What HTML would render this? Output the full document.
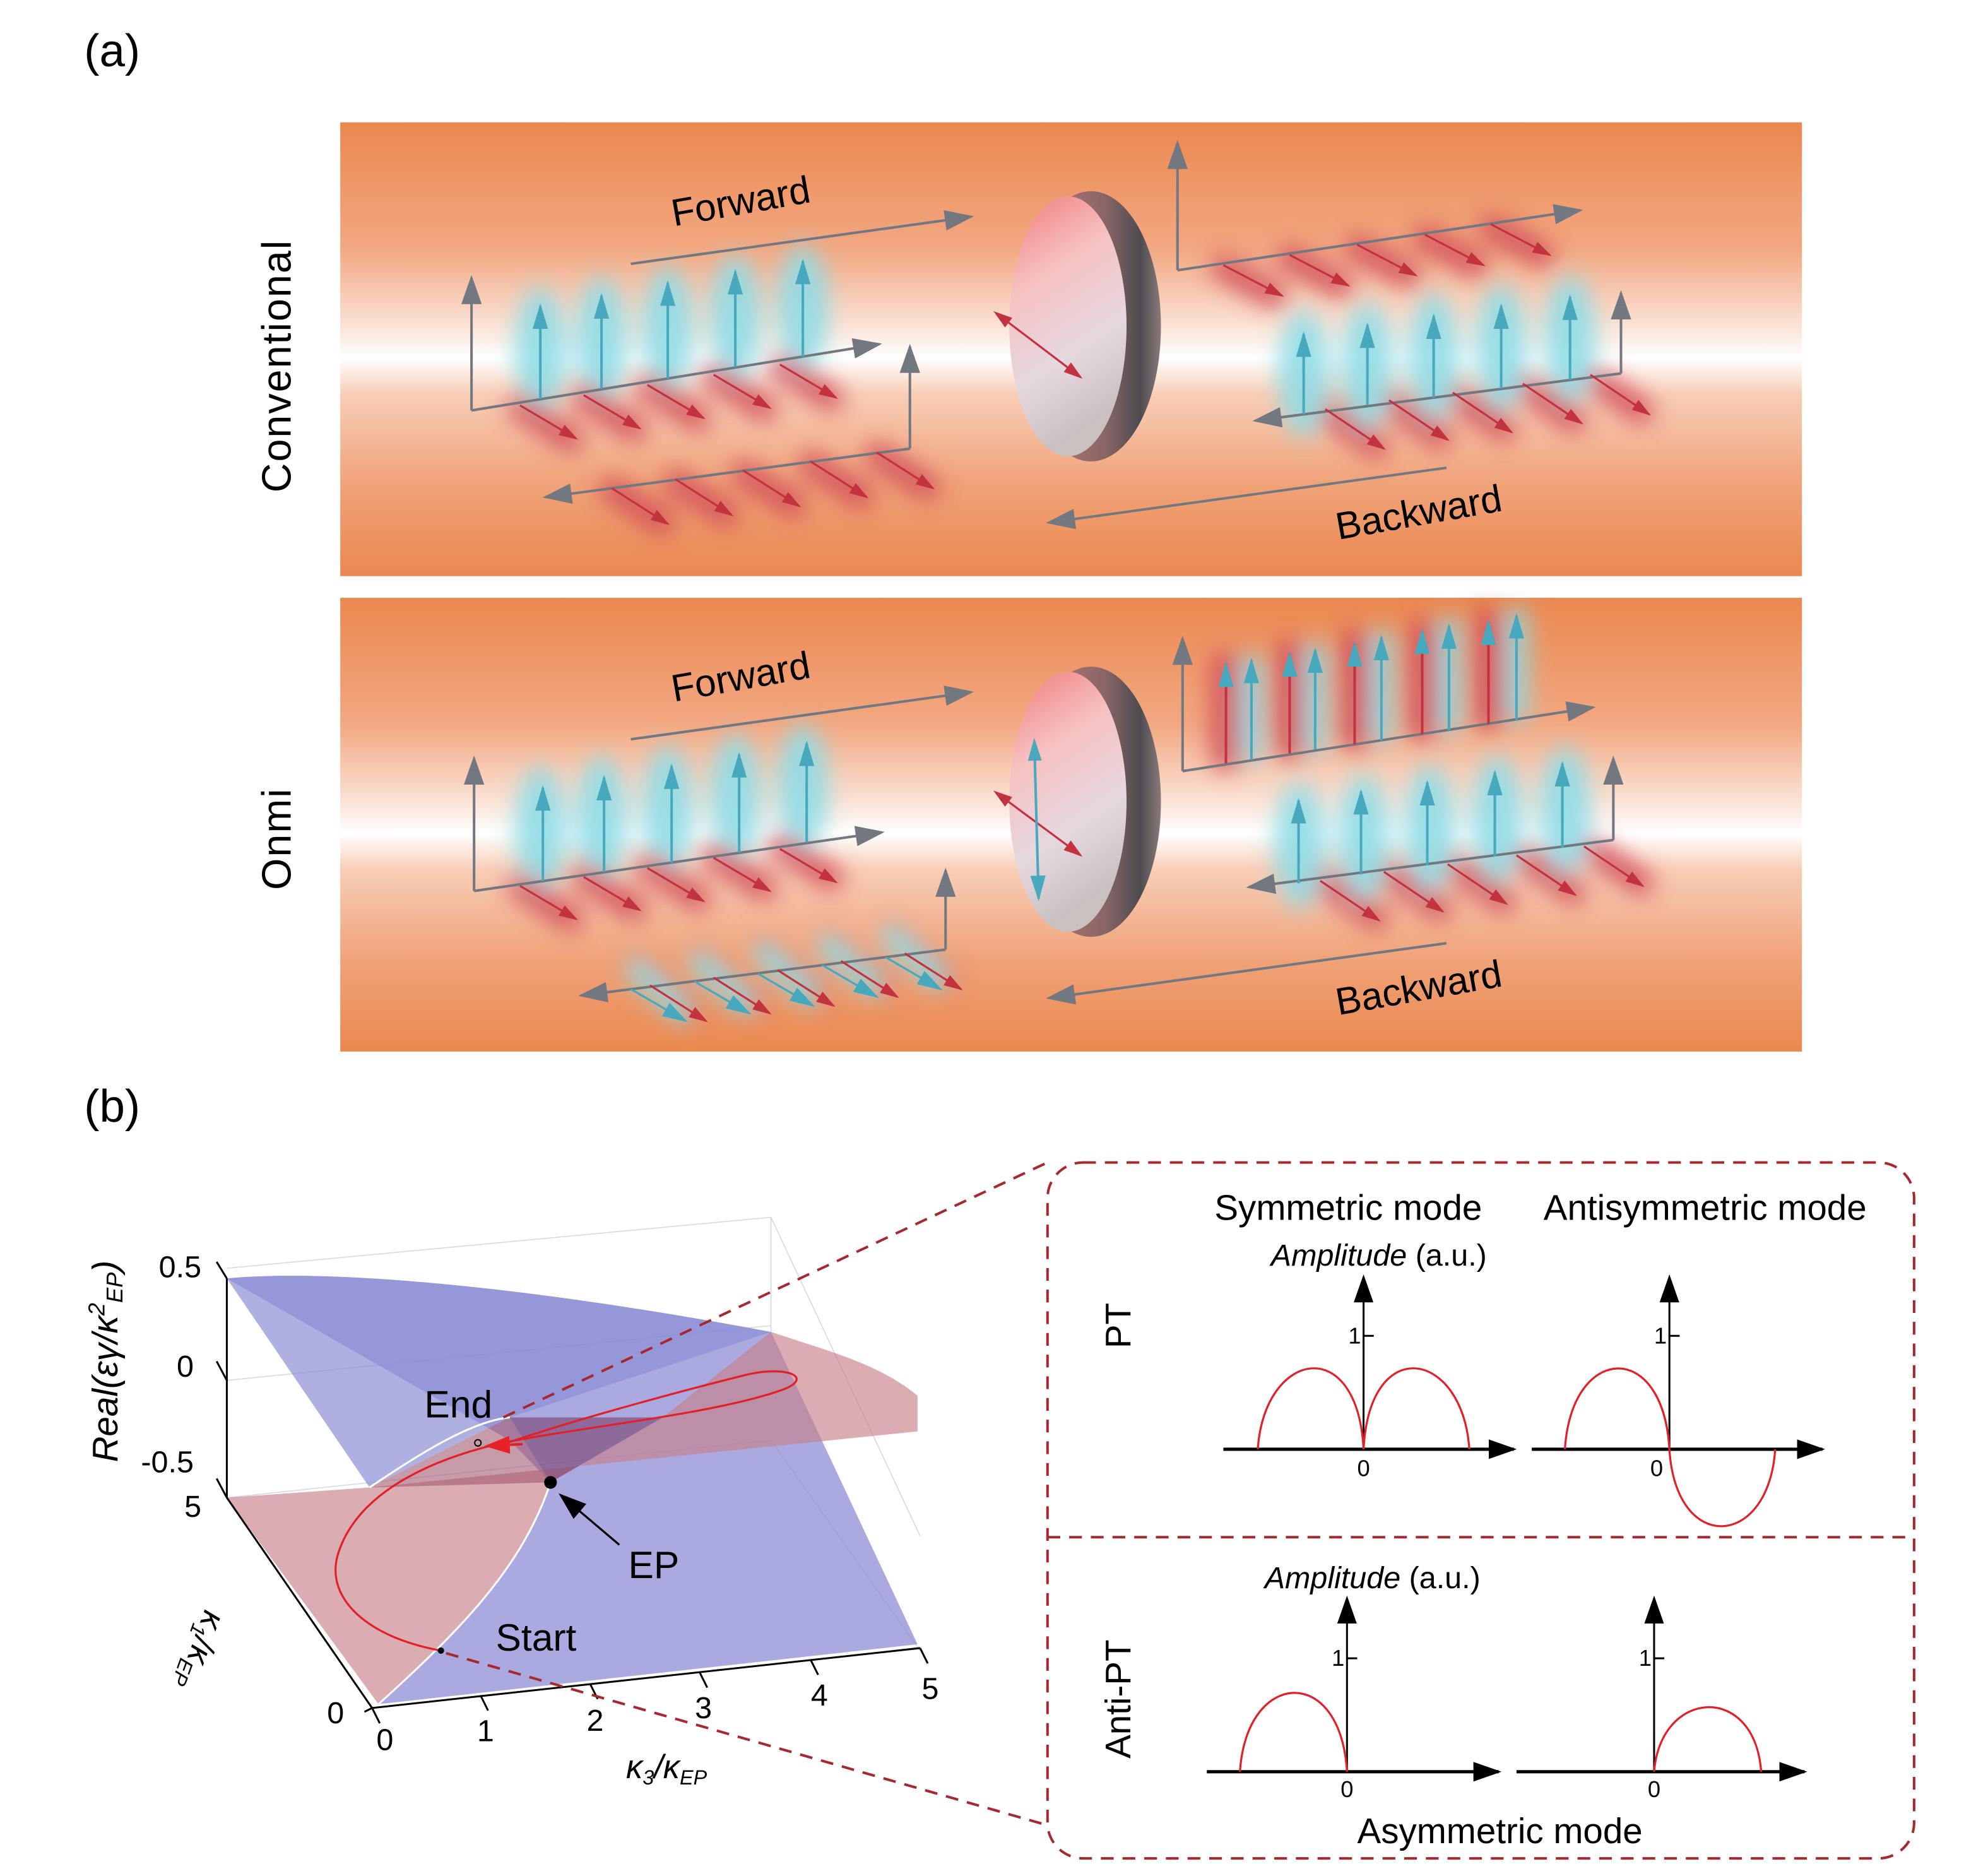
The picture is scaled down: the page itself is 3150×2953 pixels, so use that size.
<!DOCTYPE html>
<html><head><meta charset="utf-8">
<style>
html,body{margin:0;padding:0;background:#fff;}
svg{display:block;}
text{font-family:"Liberation Sans Narrow","Liberation Sans",sans-serif;}
</style></head>
<body>
<svg width="3150" height="2953" viewBox="0 0 1560 1462.4" preserveAspectRatio="none" xmlns="http://www.w3.org/2000/svg">
<defs>
<linearGradient id="bg" x1="0" y1="0" x2="0" y2="1">
<stop offset="0" stop-color="#eb8850"/>
<stop offset="0.28" stop-color="#f2a882"/>
<stop offset="0.45" stop-color="#fbe3d6"/>
<stop offset="0.52" stop-color="#ffffff"/>
<stop offset="0.6" stop-color="#f8cdb6"/>
<stop offset="0.8" stop-color="#f0a278"/>
<stop offset="1" stop-color="#eb8850"/>
</linearGradient>
<linearGradient id="rim" x1="0" y1="0" x2="1" y2="0">
<stop offset="0" stop-color="#c77b7b"/>
<stop offset="0.6" stop-color="#8a6666"/>
<stop offset="0.85" stop-color="#4d4b50"/>
<stop offset="1" stop-color="#8a7a7a"/>
</linearGradient>
<linearGradient id="face" x1="0" y1="0" x2="0.3" y2="1">
<stop offset="0" stop-color="#f07a7a"/>
<stop offset="0.35" stop-color="#f7c0c0"/>
<stop offset="0.7" stop-color="#e6d8e0"/>
<stop offset="1" stop-color="#c9c0c0"/>
</linearGradient>
<filter id="bl" x="-80%" y="-80%" width="260%" height="260%"><feGaussianBlur stdDeviation="9"/></filter>
<marker id="mg" viewBox="0 0 20 14" refX="18" refY="7" markerWidth="26" markerHeight="16" markerUnits="userSpaceOnUse" orient="auto"><path d="M0,0 L20,7 L0,14 z" fill="#737880"/></marker>
<marker id="mb" viewBox="0 0 20 12" refX="18" refY="6" markerWidth="20" markerHeight="13" markerUnits="userSpaceOnUse" orient="auto"><path d="M0,0 L20,6 L0,12 z" fill="#48a8bd"/></marker>
<marker id="mr" viewBox="0 0 16 10" refX="14" refY="5" markerWidth="15" markerHeight="10" markerUnits="userSpaceOnUse" orient="auto"><path d="M0,0 L16,5 L0,10 z" fill="#c3323f"/></marker>
<marker id="mrs" viewBox="0 0 16 10" refX="2" refY="5" markerWidth="15" markerHeight="10" markerUnits="userSpaceOnUse" orient="auto-start-reverse"><path d="M0,0 L16,5 L0,10 z" fill="#c3323f"/></marker>
<marker id="mbs" viewBox="0 0 20 12" refX="2" refY="6" markerWidth="18" markerHeight="12" markerUnits="userSpaceOnUse" orient="auto-start-reverse"><path d="M0,0 L20,6 L0,12 z" fill="#48a8bd"/></marker>
<marker id="mk" viewBox="0 0 20 14" refX="18" refY="7" markerWidth="22" markerHeight="18" markerUnits="userSpaceOnUse" orient="auto"><path d="M0,0 L20,7 L0,14 z" fill="#000"/></marker>
<marker id="mred" viewBox="0 0 20 14" refX="10" refY="7" markerWidth="20" markerHeight="16" markerUnits="userSpaceOnUse" orient="auto"><path d="M0,0 L20,7 L0,14 z" fill="#e8202a"/></marker>
</defs>

<text x="66" y="52" font-size="36">(a)</text>
<text x="66" y="880" font-size="36">(b)</text>

<rect x="267" y="96" width="1147" height="356" fill="url(#bg)"/>
<rect x="267" y="469" width="1147" height="356" fill="url(#bg)"/>

<text transform="translate(228,287) rotate(-90)" font-size="32" text-anchor="middle" font-family="Liberation Sans, sans-serif" letter-spacing="1">Conventional</text>
<text transform="translate(228,658) rotate(-90)" font-size="32" text-anchor="middle" font-family="Liberation Sans, sans-serif" letter-spacing="1">Onmi</text>

<!-- ===== Panel 1 ===== -->
<g>
<g filter="url(#bl)" opacity="0.9">
<g fill="#8fdce6">
<ellipse cx="424" cy="275" rx="20" ry="50"/><ellipse cx="472" cy="267" rx="20" ry="50"/><ellipse cx="524" cy="259" rx="20" ry="50"/><ellipse cx="577" cy="250" rx="20" ry="50"/><ellipse cx="630" cy="242" rx="20" ry="50"/>
</g>
<g stroke="#d2505c" stroke-width="20" stroke-linecap="round">
<line x1="408" y1="320" x2="448" y2="345"/><line x1="458" y1="312" x2="498" y2="337"/><line x1="508" y1="304" x2="548" y2="329"/><line x1="560" y1="296" x2="600" y2="321"/><line x1="612" y1="288" x2="652" y2="313"/>
<line x1="480" y1="384" x2="520" y2="410"/><line x1="530" y1="378" x2="570" y2="404"/><line x1="583" y1="371" x2="623" y2="397"/><line x1="636" y1="364" x2="676" y2="390"/><line x1="688" y1="357" x2="728" y2="383"/>
<line x1="960" y1="210" x2="1000" y2="232"/><line x1="1012" y1="202" x2="1052" y2="224"/><line x1="1065" y1="194" x2="1105" y2="216"/><line x1="1118" y1="186" x2="1158" y2="208"/><line x1="1170" y1="178" x2="1210" y2="200"/>
<line x1="1040" y1="323" x2="1080" y2="350"/><line x1="1090" y1="316" x2="1130" y2="343"/><line x1="1140" y1="310" x2="1180" y2="337"/><line x1="1195" y1="303" x2="1235" y2="330"/><line x1="1248" y1="296" x2="1288" y2="323"/>
</g>
<g fill="#8fdce6">
<ellipse cx="1023" cy="293" rx="20" ry="50"/><ellipse cx="1073" cy="287" rx="20" ry="50"/><ellipse cx="1125" cy="280" rx="20" ry="50"/><ellipse cx="1178" cy="273" rx="20" ry="50"/><ellipse cx="1232" cy="266" rx="20" ry="50"/>
</g>
</g>
<line x1="370" y1="322" x2="370" y2="218" stroke="#737880" stroke-width="2" marker-end="url(#mg)"/>
<line x1="370" y1="322" x2="690" y2="270" stroke="#737880" stroke-width="2" marker-end="url(#mg)"/>
<g stroke="#48a8bd" stroke-width="2" marker-end="url(#mb)">
<line x1="424" y1="313" x2="424" y2="240"/><line x1="472" y1="305" x2="472" y2="232"/><line x1="524" y1="297" x2="524" y2="222"/><line x1="577" y1="288" x2="577" y2="213"/><line x1="630" y1="280" x2="630" y2="205"/>
</g>
<g stroke="#c3323f" stroke-width="1.6" marker-end="url(#mr)">
<line x1="408" y1="318" x2="452" y2="344"/><line x1="458" y1="310" x2="502" y2="336"/><line x1="508" y1="302" x2="552" y2="328"/><line x1="560" y1="294" x2="604" y2="320"/><line x1="612" y1="286" x2="656" y2="312"/>
</g>
<line x1="714" y1="352" x2="714" y2="272" stroke="#737880" stroke-width="2" marker-end="url(#mg)"/>
<line x1="714" y1="352" x2="428" y2="390" stroke="#737880" stroke-width="2" marker-end="url(#mg)"/>
<g stroke="#c3323f" stroke-width="1.6" marker-end="url(#mr)">
<line x1="480" y1="383" x2="524" y2="411"/><line x1="530" y1="376" x2="574" y2="404"/><line x1="583" y1="369" x2="627" y2="397"/><line x1="636" y1="362" x2="680" y2="390"/><line x1="688" y1="355" x2="732" y2="383"/>
</g>
<line x1="924" y1="212" x2="924" y2="112" stroke="#737880" stroke-width="2" marker-end="url(#mg)"/>
<line x1="924" y1="212" x2="1240" y2="165" stroke="#737880" stroke-width="2" marker-end="url(#mg)"/>
<g stroke="#c3323f" stroke-width="1.6" marker-end="url(#mr)">
<line x1="960" y1="208" x2="1006" y2="232"/><line x1="1012" y1="200" x2="1058" y2="224"/><line x1="1065" y1="192" x2="1111" y2="216"/><line x1="1118" y1="184" x2="1164" y2="208"/><line x1="1170" y1="176" x2="1216" y2="200"/>
</g>
<line x1="1272" y1="293" x2="1272" y2="230" stroke="#737880" stroke-width="2" marker-end="url(#mg)"/>
<line x1="1272" y1="293" x2="985" y2="330" stroke="#737880" stroke-width="2" marker-end="url(#mg)"/>
<g stroke="#48a8bd" stroke-width="2" marker-end="url(#mb)">
<line x1="1023" y1="325" x2="1023" y2="262"/><line x1="1073" y1="318" x2="1073" y2="255"/><line x1="1125" y1="312" x2="1125" y2="248"/><line x1="1178" y1="305" x2="1178" y2="240"/><line x1="1232" y1="298" x2="1232" y2="233"/>
</g>
<g stroke="#c3323f" stroke-width="1.6" marker-end="url(#mr)">
<line x1="1040" y1="321" x2="1086" y2="352"/><line x1="1090" y1="314" x2="1136" y2="345"/><line x1="1140" y1="308" x2="1186" y2="339"/><line x1="1195" y1="301" x2="1241" y2="332"/><line x1="1248" y1="294" x2="1294" y2="325"/>
</g>
<line x1="495" y1="207" x2="762" y2="170" stroke="#737880" stroke-width="2" marker-end="url(#mg)"/>
<line x1="1135" y1="367" x2="823" y2="410" stroke="#737880" stroke-width="2" marker-end="url(#mg)"/>
<text transform="translate(583,168) rotate(-10)" font-size="30" text-anchor="middle">Forward</text>
<text transform="translate(1115,412) rotate(-10)" font-size="30" text-anchor="middle">Backward</text>
<ellipse cx="856" cy="256" rx="55" ry="106" fill="url(#rim)"/>
<ellipse cx="838" cy="256" rx="46" ry="102" fill="url(#face)"/>
</g>
<line x1="790" y1="252" x2="848" y2="296" stroke="#c3323f" stroke-width="1.6" marker-start="url(#mrs)" marker-end="url(#mr)"/>

<!-- ===== Panel 2 ===== -->
<g transform="translate(0,373)">
<g filter="url(#bl)" opacity="0.9">
<g fill="#8fdce6">
<ellipse cx="424" cy="278" rx="20" ry="50"/><ellipse cx="472" cy="270" rx="20" ry="50"/><ellipse cx="524" cy="262" rx="20" ry="50"/><ellipse cx="577" cy="253" rx="20" ry="50"/><ellipse cx="630" cy="245" rx="20" ry="50"/>
</g>
<g stroke="#d2505c" stroke-width="20" stroke-linecap="round">
<line x1="408" y1="323" x2="448" y2="348"/><line x1="458" y1="315" x2="498" y2="340"/><line x1="508" y1="307" x2="548" y2="332"/><line x1="560" y1="299" x2="600" y2="324"/><line x1="612" y1="291" x2="652" y2="316"/>
<line x1="500" y1="386" x2="540" y2="420"/><line x1="550" y1="380" x2="590" y2="414"/><line x1="600" y1="373" x2="640" y2="407"/><line x1="650" y1="367" x2="690" y2="400"/><line x1="700" y1="360" x2="740" y2="394"/>
<line x1="1040" y1="320" x2="1080" y2="347"/><line x1="1090" y1="313" x2="1130" y2="340"/><line x1="1140" y1="307" x2="1180" y2="334"/><line x1="1195" y1="300" x2="1235" y2="327"/><line x1="1248" y1="293" x2="1288" y2="320"/>
</g>
<g stroke="#d2505c" stroke-width="24" stroke-linecap="round">
<line x1="962" y1="220" x2="962" y2="150"/><line x1="1012" y1="212" x2="1012" y2="140"/><line x1="1063" y1="205" x2="1063" y2="132"/><line x1="1116" y1="197" x2="1116" y2="124"/><line x1="1168" y1="189" x2="1168" y2="116"/>
</g>
<g stroke="#8fdce6" stroke-width="18" stroke-linecap="round">
<line x1="982" y1="217" x2="982" y2="150"/><line x1="1032" y1="210" x2="1032" y2="140"/><line x1="1084" y1="202" x2="1084" y2="130"/><line x1="1137" y1="194" x2="1137" y2="120"/><line x1="1190" y1="186" x2="1190" y2="112"/>
<line x1="500" y1="388" x2="535" y2="420"/><line x1="550" y1="382" x2="585" y2="414"/><line x1="600" y1="375" x2="635" y2="407"/><line x1="650" y1="369" x2="685" y2="400"/><line x1="700" y1="362" x2="735" y2="394"/>
</g>
<g fill="#8fdce6">
<ellipse cx="1020" cy="290" rx="20" ry="50"/><ellipse cx="1070" cy="284" rx="20" ry="50"/><ellipse cx="1122" cy="277" rx="20" ry="50"/><ellipse cx="1175" cy="270" rx="20" ry="50"/><ellipse cx="1228" cy="263" rx="20" ry="50"/>
</g>
</g>
<line x1="372" y1="326" x2="372" y2="222" stroke="#737880" stroke-width="2" marker-end="url(#mg)"/>
<line x1="372" y1="326" x2="692" y2="280" stroke="#737880" stroke-width="2" marker-end="url(#mg)"/>
<g stroke="#48a8bd" stroke-width="2" marker-end="url(#mb)">
<line x1="426" y1="318" x2="426" y2="245"/><line x1="474" y1="311" x2="474" y2="237"/><line x1="527" y1="304" x2="527" y2="228"/><line x1="580" y1="296" x2="580" y2="219"/><line x1="633" y1="288" x2="633" y2="210"/>
</g>
<g stroke="#c3323f" stroke-width="1.6" marker-end="url(#mr)">
<line x1="408" y1="322" x2="452" y2="348"/><line x1="458" y1="315" x2="502" y2="341"/><line x1="508" y1="308" x2="552" y2="334"/><line x1="560" y1="300" x2="604" y2="326"/><line x1="612" y1="293" x2="656" y2="319"/>
</g>
<line x1="742" y1="372" x2="742" y2="310" stroke="#737880" stroke-width="2" marker-end="url(#mg)"/>
<line x1="742" y1="372" x2="456" y2="408" stroke="#737880" stroke-width="2" marker-end="url(#mg)"/>
<g stroke="#c3323f" stroke-width="1.6" marker-end="url(#mr)">
<line x1="510" y1="400" x2="554" y2="428"/><line x1="560" y1="394" x2="604" y2="422"/><line x1="610" y1="388" x2="654" y2="416"/><line x1="660" y1="381" x2="704" y2="409"/><line x1="710" y1="375" x2="754" y2="403"/>
</g>
<g stroke="#48a8bd" stroke-width="1.6" marker-end="url(#mb)">
<line x1="495" y1="403" x2="538" y2="428"/><line x1="545" y1="397" x2="588" y2="422"/><line x1="595" y1="391" x2="638" y2="416"/><line x1="645" y1="384" x2="688" y2="409"/><line x1="695" y1="378" x2="738" y2="403"/>
</g>
<line x1="928" y1="232" x2="928" y2="128" stroke="#737880" stroke-width="2" marker-end="url(#mg)"/>
<line x1="928" y1="232" x2="1250" y2="182" stroke="#737880" stroke-width="2" marker-end="url(#mg)"/>
<g stroke="#c3323f" stroke-width="2" marker-end="url(#mb)">
<line x1="962" y1="226" x2="962" y2="148"/><line x1="1012" y1="218" x2="1012" y2="140"/><line x1="1063" y1="211" x2="1063" y2="132"/><line x1="1116" y1="203" x2="1116" y2="122"/><line x1="1168" y1="195" x2="1168" y2="115"/>
</g>
<g stroke="#48a8bd" stroke-width="2" marker-end="url(#mb)">
<line x1="982" y1="223" x2="982" y2="145"/><line x1="1032" y1="215" x2="1032" y2="137"/><line x1="1084" y1="208" x2="1084" y2="127"/><line x1="1137" y1="200" x2="1137" y2="118"/><line x1="1190" y1="192" x2="1190" y2="110"/>
</g>
<line x1="1266" y1="286" x2="1266" y2="222" stroke="#737880" stroke-width="2" marker-end="url(#mg)"/>
<line x1="1266" y1="286" x2="980" y2="323" stroke="#737880" stroke-width="2" marker-end="url(#mg)"/>
<g stroke="#48a8bd" stroke-width="2" marker-end="url(#mb)">
<line x1="1019" y1="320" x2="1019" y2="255"/><line x1="1068" y1="313" x2="1068" y2="248"/><line x1="1120" y1="306" x2="1120" y2="241"/><line x1="1173" y1="299" x2="1173" y2="233"/><line x1="1226" y1="292" x2="1226" y2="226"/>
</g>
<g stroke="#c3323f" stroke-width="1.6" marker-end="url(#mr)">
<line x1="1036" y1="318" x2="1082" y2="349"/><line x1="1086" y1="311" x2="1132" y2="342"/><line x1="1136" y1="305" x2="1182" y2="336"/><line x1="1190" y1="298" x2="1236" y2="329"/><line x1="1243" y1="291" x2="1289" y2="322"/>
</g>
<line x1="495" y1="207" x2="762" y2="170" stroke="#737880" stroke-width="2" marker-end="url(#mg)"/>
<line x1="1135" y1="367" x2="823" y2="410" stroke="#737880" stroke-width="2" marker-end="url(#mg)"/>
<text transform="translate(583,168) rotate(-10)" font-size="30" text-anchor="middle">Forward</text>
<text transform="translate(1115,412) rotate(-10)" font-size="30" text-anchor="middle">Backward</text>
<ellipse cx="856" cy="256" rx="55" ry="106" fill="url(#rim)"/>
<ellipse cx="838" cy="256" rx="46" ry="102" fill="url(#face)"/>
<line x1="790" y1="255" x2="848" y2="298" stroke="#c3323f" stroke-width="1.6" marker-start="url(#mrs)" marker-end="url(#mr)"/>
<line x1="812" y1="222" x2="815" y2="332" stroke="#48a8bd" stroke-width="2" marker-start="url(#mbs)" marker-end="url(#mb)"/>
</g>

<!-- ===== Part (b) 3D plot ===== -->
<g stroke="#d8d8e0" stroke-width="0.8" fill="none">
<line x1="178" y1="995" x2="605" y2="955"/>
<line x1="605" y1="955" x2="605" y2="1045"/>
<line x1="605" y1="955" x2="722" y2="1205"/>
<line x1="178" y1="1083" x2="605" y2="1040"/>
<line x1="178" y1="1175" x2="605" y2="1130"/>
<line x1="605" y1="1130" x2="722" y2="1295"/>
</g>
<path d="M178,1003 C260,995 420,1010 605,1045 L720,1290 L297,1337 C360,1280 410,1230 432,1163 L400,1130 Z" fill="#8d8ed6" opacity="0.75"/>
<path d="M178,1003 L290,1167 L400,1112 L605,1045 C420,1010 260,995 178,1003 Z" fill="#8d8ed6" opacity="0.7"/>
<path d="M178,1175 L297,1337 C360,1280 410,1230 432,1163 L520,1112 L605,1045 C650,1060 690,1070 720,1095 L720,1123 L290,1167 Z" fill="#c77f88" opacity="0.65"/>
<path d="M290,1167 L400,1112 L432,1163 Z" fill="#a35870" opacity="0.6"/>
<path d="M400,1112 L520,1112 L432,1163 Z" fill="#7a3f6a" opacity="0.6"/>
<path d="M297,1337 C360,1280 410,1230 432,1163" fill="none" stroke="#fff" stroke-width="1.5"/>
<path d="M290,1167 C330,1140 370,1115 400,1112" fill="none" stroke="#fff" stroke-width="1.5"/>
<g stroke="#000" stroke-width="1.5" fill="none">
<line x1="178" y1="1003" x2="178" y2="1175"/>
<line x1="178" y1="1175" x2="292" y2="1340"/>
<line x1="292" y1="1340" x2="722" y2="1293"/>
<line x1="170" y1="990" x2="178" y2="1003"/><line x1="170" y1="1068" x2="178" y2="1083"/><line x1="170" y1="1160" x2="178" y2="1175"/>
<line x1="286" y1="1343" x2="292" y2="1340"/>
<line x1="292" y1="1340" x2="298" y2="1352"/><line x1="377" y1="1330" x2="383" y2="1342"/><line x1="463" y1="1321" x2="469" y2="1333"/><line x1="549" y1="1312" x2="555" y2="1324"/><line x1="636" y1="1302" x2="642" y2="1314"/><line x1="722" y1="1293" x2="728" y2="1305"/>
</g>
<g font-size="24">
<text x="158" y="1002" text-anchor="end">0.5</text>
<text x="152" y="1080" text-anchor="end">0</text>
<text x="152" y="1155" text-anchor="end">-0.5</text>
<text x="158" y="1190" text-anchor="end">5</text>
<text x="270" y="1352" text-anchor="end">0</text>
<text x="302" y="1373" text-anchor="middle">0</text>
<text x="381" y="1366" text-anchor="middle">1</text>
<text x="467" y="1358" text-anchor="middle">2</text>
<text x="552" y="1348" text-anchor="middle">3</text>
<text x="643" y="1338" text-anchor="middle">4</text>
<text x="730" y="1333" text-anchor="middle">5</text>
</g>
<text transform="translate(92,1068) rotate(-90)" font-size="28" text-anchor="middle" font-family="Liberation Serif, serif" font-style="italic">Real(εγ/κ<tspan dy="-10" font-size="18">2</tspan><tspan dy="14" font-size="18">EP</tspan><tspan dy="-4">)</tspan></text>
<text transform="translate(150,1292) rotate(110)" font-size="26" text-anchor="middle" font-family="Liberation Serif, serif" font-style="italic">κ<tspan font-size="16" dy="5">1</tspan><tspan dy="-5">/κ</tspan><tspan font-size="16" dy="5">EP</tspan></text>
<text x="523" y="1395" font-size="26" text-anchor="middle" font-family="Liberation Serif, serif" font-style="italic">κ<tspan font-size="16" dy="5">3</tspan><tspan dy="-5">/κ</tspan><tspan font-size="16" dy="5">EP</tspan></text>
<path d="M346,1295 C290,1285 255,1255 265,1220 C280,1170 340,1145 390,1133" fill="none" stroke="#e2202a" stroke-width="1.6"/>
<path d="M390,1133 C450,1120 560,1110 615,1090 C640,1080 615,1070 580,1080 C520,1095 430,1120 390,1135" fill="none" stroke="#e2202a" stroke-width="1.6"/>
<line x1="410" y1="1133" x2="390" y2="1134" stroke="#e2202a" stroke-width="2" marker-end="url(#mred)"/>
<circle cx="375" cy="1132" r="2.5" fill="none" stroke="#000" stroke-width="1"/>
<circle cx="346" cy="1295" r="2.5" fill="#000"/>
<circle cx="432" cy="1163" r="5" fill="#000"/>
<line x1="486" y1="1212" x2="440" y2="1173" stroke="#000" stroke-width="1.6" marker-end="url(#mk)"/>
<g font-size="30">
<text x="333" y="1112">End</text>
<text x="493" y="1238">EP</text>
<text x="389" y="1295">Start</text>
</g>

<g stroke="#a8282f" stroke-width="2" stroke-dasharray="10,7" fill="none">
<line x1="395" y1="1112" x2="822" y2="912"/>
<line x1="350" y1="1297" x2="822" y2="1432"/>
<rect x="822" y="912" width="680" height="546" rx="28"/>
<line x1="822" y1="1206" x2="1502" y2="1206"/>
</g>

<g font-size="28">
<text x="1058" y="957" text-anchor="middle">Symmetric mode</text>
<text x="1338" y="957" text-anchor="middle">Antisymmetric mode</text>
<text x="1177" y="1446" text-anchor="middle">Asymmetric mode</text>
</g>
<text x="1082" y="993" font-size="24" text-anchor="middle"><tspan font-style="italic">Amplitude</tspan> (a.u.)</text>
<text x="1077" y="1246" font-size="24" text-anchor="middle"><tspan font-style="italic">Amplitude</tspan> (a.u.)</text>
<text transform="translate(887,1040) rotate(-90)" font-size="28" text-anchor="middle" font-family="Liberation Sans, sans-serif">PT</text>
<text transform="translate(887,1333) rotate(-90)" font-size="28" text-anchor="middle" font-family="Liberation Sans, sans-serif">Anti-PT</text>

<g stroke="#000" fill="none">
<line x1="960" y1="1137" x2="1188" y2="1137" stroke-width="2.5" marker-end="url(#mk)"/>
<line x1="1070" y1="1137" x2="1070" y2="1002" stroke-width="1.5" marker-end="url(#mk)"/>
<line x1="1070" y1="1048" x2="1078" y2="1048" stroke-width="1.5"/>
<line x1="1202" y1="1137" x2="1430" y2="1137" stroke-width="2.5" marker-end="url(#mk)"/>
<line x1="1310" y1="1137" x2="1310" y2="1002" stroke-width="1.5" marker-end="url(#mk)"/>
<line x1="1310" y1="1048" x2="1318" y2="1048" stroke-width="1.5"/>
<line x1="947" y1="1390" x2="1176" y2="1390" stroke-width="2.5" marker-end="url(#mk)"/>
<line x1="1057" y1="1390" x2="1057" y2="1254" stroke-width="1.5" marker-end="url(#mk)"/>
<line x1="1057" y1="1301" x2="1065" y2="1301" stroke-width="1.5"/>
<line x1="1190" y1="1390" x2="1416" y2="1390" stroke-width="2.5" marker-end="url(#mk)"/>
<line x1="1298" y1="1390" x2="1298" y2="1254" stroke-width="1.5" marker-end="url(#mk)"/>
<line x1="1298" y1="1301" x2="1306" y2="1301" stroke-width="1.5"/>
</g>
<g stroke="#e2202a" stroke-width="1.6" fill="none">
<path d="M987,1137 C992,1060 1065,1045 1070,1137"/>
<path d="M1070,1137 C1075,1045 1148,1060 1153,1137"/>
<path d="M1228,1137 C1233,1055 1305,1050 1310,1137"/>
<path d="M1310,1137 C1315,1220 1388,1215 1393,1137"/>
<path d="M973,1390 C978,1310 1052,1305 1057,1390"/>
<path d="M1298,1390 C1303,1325 1377,1320 1382,1390"/>
</g>
<g font-size="18" text-anchor="middle">
<text x="1063" y="1054">1</text><text x="1070" y="1158">0</text>
<text x="1303" y="1054">1</text><text x="1300" y="1158">0</text>
<text x="1050" y="1307">1</text><text x="1057" y="1410">0</text>
<text x="1291" y="1307">1</text><text x="1298" y="1410">0</text>
</g>
</svg>
</body></html>
